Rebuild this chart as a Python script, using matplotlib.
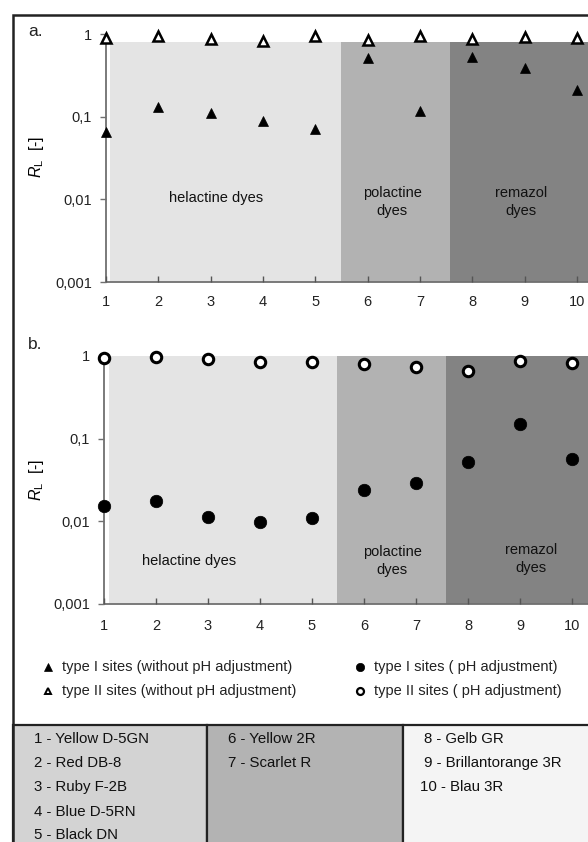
import matplotlib
matplotlib.use("Agg")
import matplotlib.pyplot as plt
from matplotlib.lines import Line2D
from matplotlib.patches import Rectangle
from matplotlib.ticker import FixedLocator, FixedFormatter

plt.rcParams['font.family'] = ['Liberation Sans', 'DejaVu Sans']
plt.rcParams['mathtext.fontset'] = 'custom'
plt.rcParams['mathtext.rm'] = 'Liberation Sans'
plt.rcParams['mathtext.it'] = 'Liberation Sans:italic'

# ---------------- data ----------------
dyes = [1, 2, 3, 4, 5, 6, 7, 8, 9, 10]
a_type1 = [0.066, 0.131, 0.111, 0.088, 0.071, 0.51, 0.118, 0.52, 0.386, 0.21]
a_type2 = [0.90, 0.95, 0.86, 0.83, 0.95, 0.85, 0.95, 0.86, 0.93, 0.89]
b_type1 = [0.0153, 0.0175, 0.0112, 0.0099, 0.0111, 0.024, 0.0294, 0.0527, 0.151, 0.057]
b_type2 = [0.95, 0.96, 0.91, 0.85, 0.85, 0.80, 0.73, 0.66, 0.87, 0.82]

y_ticks = [0.001, 0.01, 0.1, 1]
y_ticklabels = ["0,001", "0,01", "0,1", "1"]

groups = ["helactine dyes", "polactine\ndyes", "remazol\ndyes"]
group_edges = [1.09, 5.49, 7.58, 10.8]
group_colors = ["#e4e4e4", "#b2b2b2", "#838383"]

legend_labels = ["type I sites (without pH adjustment)",
                 "type II sites (without pH adjustment)",
                 "type I sites ( pH adjustment)",
                 "type II sites ( pH adjustment)"]

dye_names_col1 = ["1 - Yellow D-5GN", "2 - Red DB-8", "3 - Ruby F-2B", "4 - Blue D-5RN", "5 - Black DN"]
dye_names_col2 = ["6 - Yellow 2R", "7 - Scarlet R"]
dye_names_col3 = ["8 - Gelb GR", "9 - Brillantorange 3R", "10 - Blau 3R"]

# ---------------- figure ----------------
W, H = 588, 842
fig = plt.figure(figsize=(W / 100, H / 100), dpi=100)

def fx(px):
    return px / W

def fy(py):
    return 1 - py / H

FS = 10.5

def setup_axes(ax, shade_top):
    ax.set_yscale('log')
    ax.set_xlim(1, 10.6)
    ax.set_ylim(0.001, 1)
    for i in range(3):
        ax.fill_between([group_edges[i], group_edges[i + 1]], 0.001, shade_top,
                        color=group_colors[i], lw=0, zorder=0)
    for s in ['top', 'right']:
        ax.spines[s].set_visible(False)
    for s in ['left', 'bottom']:
        ax.spines[s].set_color('#707070')
        ax.spines[s].set_linewidth(1.3)
        ax.spines[s].set_zorder(1)
    ax.yaxis.set_major_locator(FixedLocator(y_ticks))
    ax.yaxis.set_major_formatter(FixedFormatter(y_ticklabels))
    ax.yaxis.set_minor_locator(FixedLocator([]))
    ax.set_xticks(dyes)
    ax.set_xticklabels([str(d) for d in dyes])
    ax.tick_params(axis='y', direction='out', length=4, width=1, color='#707070',
                   labelsize=FS, pad=6, colors='#222222')
    ax.tick_params(axis='x', direction='in', length=4, width=1, color='#555555',
                   labelsize=FS, pad=9, labelcolor='#222222')
    ax.set_facecolor('none')

# panel a
ax1 = fig.add_axes([fx(105.7), fy(282), 9.6 * 52.4 / W, (282 - 34) / H])
setup_axes(ax1, 0.8)
ax1.plot(dyes, a_type2, ls='none', marker='^', ms=7.5, mfc='white', mec='black',
         mew=1.8, clip_on=False, zorder=5)
ax1.plot(dyes, a_type1, ls='none', marker='^', ms=7.5, mfc='black', mec='black',
         mew=0.5, clip_on=False, zorder=5)

# panel b
ax2 = fig.add_axes([fx(104), fy(604), 9.6 * 52.0 / W, (604 - 356) / H])
setup_axes(ax2, 1.1)
ax2.tick_params(axis='x', pad=11)
ax2.plot(dyes, b_type2, ls='none', marker='o', ms=7.5, mfc='white', mec='black',
         mew=2.2, clip_on=False, zorder=5)
ax2.plot(dyes, b_type1, ls='none', marker='o', ms=9, mfc='black', mec='black',
         mew=0.5, clip_on=False, zorder=5)

ylab = r"$\it{R}_{\rm L}$  [-]"
fig.text(fx(36), fy(157), ylab, rotation=90, ha='center', va='center', fontsize=FS + 1)
fig.text(fx(36), fy(480), ylab, rotation=90, ha='center', va='center', fontsize=FS + 1)

fig.text(fx(28), fy(32), "a.", fontsize=FS + 2, ha='left', va='center', color='#222222')
fig.text(fx(28), fy(345), "b.", fontsize=FS + 2, ha='left', va='center', color='#222222')

# group labels
pos_a = [(216, 198), (392, 202), (521, 202)]
pos_b = [(189, 561), (392, 561), (531, 559)]
for g, (x, y) in zip(groups, pos_a):
    fig.text(fx(x), fy(y), g, ha='center', va='center', fontsize=FS, color='#111111',
             linespacing=1.4)
for g, (x, y) in zip(groups, pos_b):
    fig.text(fx(x), fy(y), g, ha='center', va='center', fontsize=FS, color='#111111',
             linespacing=1.4)

# legend
leg_markers = [('^', 'black', 'black', 5.5, 0.5), ('^', 'white', 'black', 5, 1.4),
               ('o', 'black', 'black', 6, 0.5), ('o', 'white', 'black', 5, 1.6)]
leg_pos = [(48, 667), (48, 691), (360, 667), (360, 691)]
for lab, (mk, fc, ec, ms, mw), (x, y) in zip(legend_labels, leg_markers, leg_pos):
    fig.add_artist(Line2D([fx(x)], [fy(y)], marker=mk, ms=ms, mfc=fc, mec=ec, mew=mw,
                          ls='none', transform=fig.transFigure))
    fig.text(fx(x + 14), fy(y), lab, ha='left', va='center', fontsize=FS, color='#222222')

# table of dye names
cells = [(13, 207, "#d3d3d3"), (207, 403, "#b3b3b3"), (403, 620, "#f4f4f4")]
for x0, x1, c in cells:
    fig.add_artist(Rectangle((fx(x0), fy(860)), fx(x1 - x0), (860 - 725) / H,
                             transform=fig.transFigure, facecolor=c,
                             edgecolor='#222222', lw=1.6, zorder=0))

rows_y = [739, 763, 787, 812, 835]
for name, y in zip(dye_names_col1, rows_y):
    fig.text(fx(34), fy(y), name, ha='left', va='center', fontsize=FS + 0.3, color='#111111')
for name, y in zip(dye_names_col2, rows_y):
    fig.text(fx(228), fy(y), name, ha='left', va='center', fontsize=FS + 0.3, color='#111111')
for name, y in zip(dye_names_col3, rows_y):
    xx = 420 if name.startswith("10") else 424
    fig.text(fx(xx), fy(y), name, ha='left', va='center', fontsize=FS + 0.3, color='#111111')

# outer frame
fig.add_artist(Rectangle((fx(13), fy(860)), fx(620 - 13), (860 - 15) / H,
                         transform=fig.transFigure, facecolor='none',
                         edgecolor='#222222', lw=1.8, zorder=10))

fig.savefig("out.png", dpi=100)
